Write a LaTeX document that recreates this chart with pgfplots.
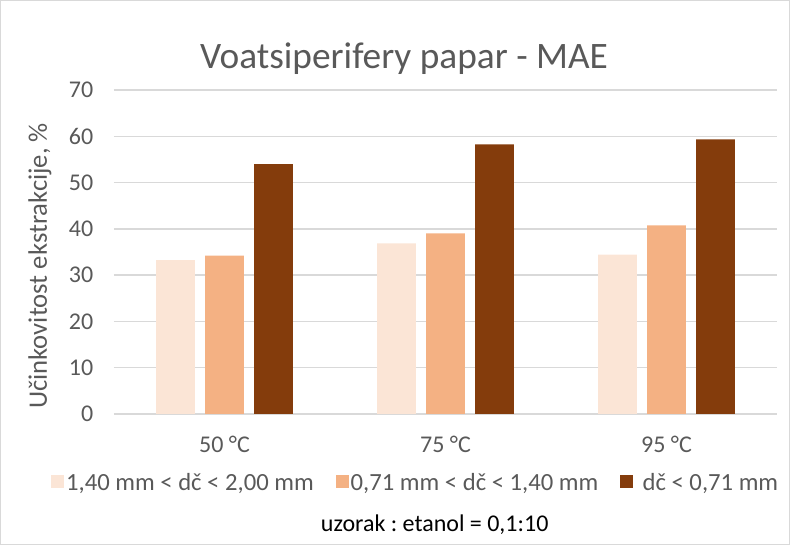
\documentclass[border=0pt]{standalone}
\usepackage{pgfplots}
\pgfplotsset{compat=1.18}
\usepackage{fontspec}
\setmainfont{Carlito}
\frenchspacing
\definecolor{txt}{HTML}{595959}
\definecolor{gridc}{HTML}{D9D9D9}
\definecolor{c1}{HTML}{FBE5D6}
\definecolor{c2}{HTML}{F4B183}
\definecolor{c3}{HTML}{843C0C}
\begin{document}
\begin{tikzpicture}[x=1pt,y=1pt]
\useasboundingbox (0,0) rectangle (592.5,408.75);
\draw[gridc, line width=0.75pt] (0.4,0.4) rectangle (592.1,408.35);
\begin{axis}[
  at={(85.5pt,98.25pt)}, anchor=south west, scale only axis,
  width=497.25pt, height=243pt,
  ybar=7.75pt, bar width=29pt,
  xmin=-0.5, xmax=2.5, ymin=0, ymax=70,
  xtick={0,1,2}, xticklabels={50 °C,75 °C,95 °C},
  ytick={0,10,...,70},
  ymajorgrids, grid style={gridc, line width=1pt},
  axis line style={draw=none},
  major tick length=0pt,
  /pgf/number format/assume math mode=true,
  tick label style={font=\fontsize{18}{20}\selectfont, text=txt},
  yticklabel style={anchor=east, xshift=-12pt},
  xticklabel style={anchor=center, yshift=-23pt},
  title={Voatsiperifery papar - MAE},
  title style={at={(axis description cs:0.4374,1.072)}, anchor=center, font=\fontsize{28}{31}\selectfont, text=txt},
  ylabel={Učinkovitost ekstrakcije, \%},
  ylabel style={at={(axis description cs:-0.1116,0.457)}, anchor=center, font=\fontsize{20}{22}\selectfont, text=txt},
  legend columns=3,
  legend style={at={(axis description cs:0.455,-0.213)}, anchor=center, draw=none, fill=none,
    font=\fontsize{18.5}{20}\selectfont, text=txt, nodes={inner sep=1.5pt},
    /tikz/every even column/.append style={column sep=15pt}},
  legend image code/.code={\draw[#1,draw=none] (0pt,-4pt) rectangle (9.75pt,5.75pt);},
]
\addplot[fill=c1, draw=none] coordinates {(0,33.27) (1,36.87) (2,34.41)};
\addplot[fill=c2, draw=none] coordinates {(0,34.21) (1,39.03) (2,40.76)};
\addplot[fill=c3, draw=none] coordinates {(0,54.01) (1,58.26) (2,59.34)};
\legend{{1,40 mm < dč < 2,00 mm}, {0,71 mm < dč < 1,40 mm}, {\hspace{0.3em}dč < 0,71 mm}}
\end{axis}
\node[font=\fontsize{18}{20}\selectfont, text=black] at (326,15) {uzorak : etanol = 0,1:10};
\end{tikzpicture}
\end{document}
